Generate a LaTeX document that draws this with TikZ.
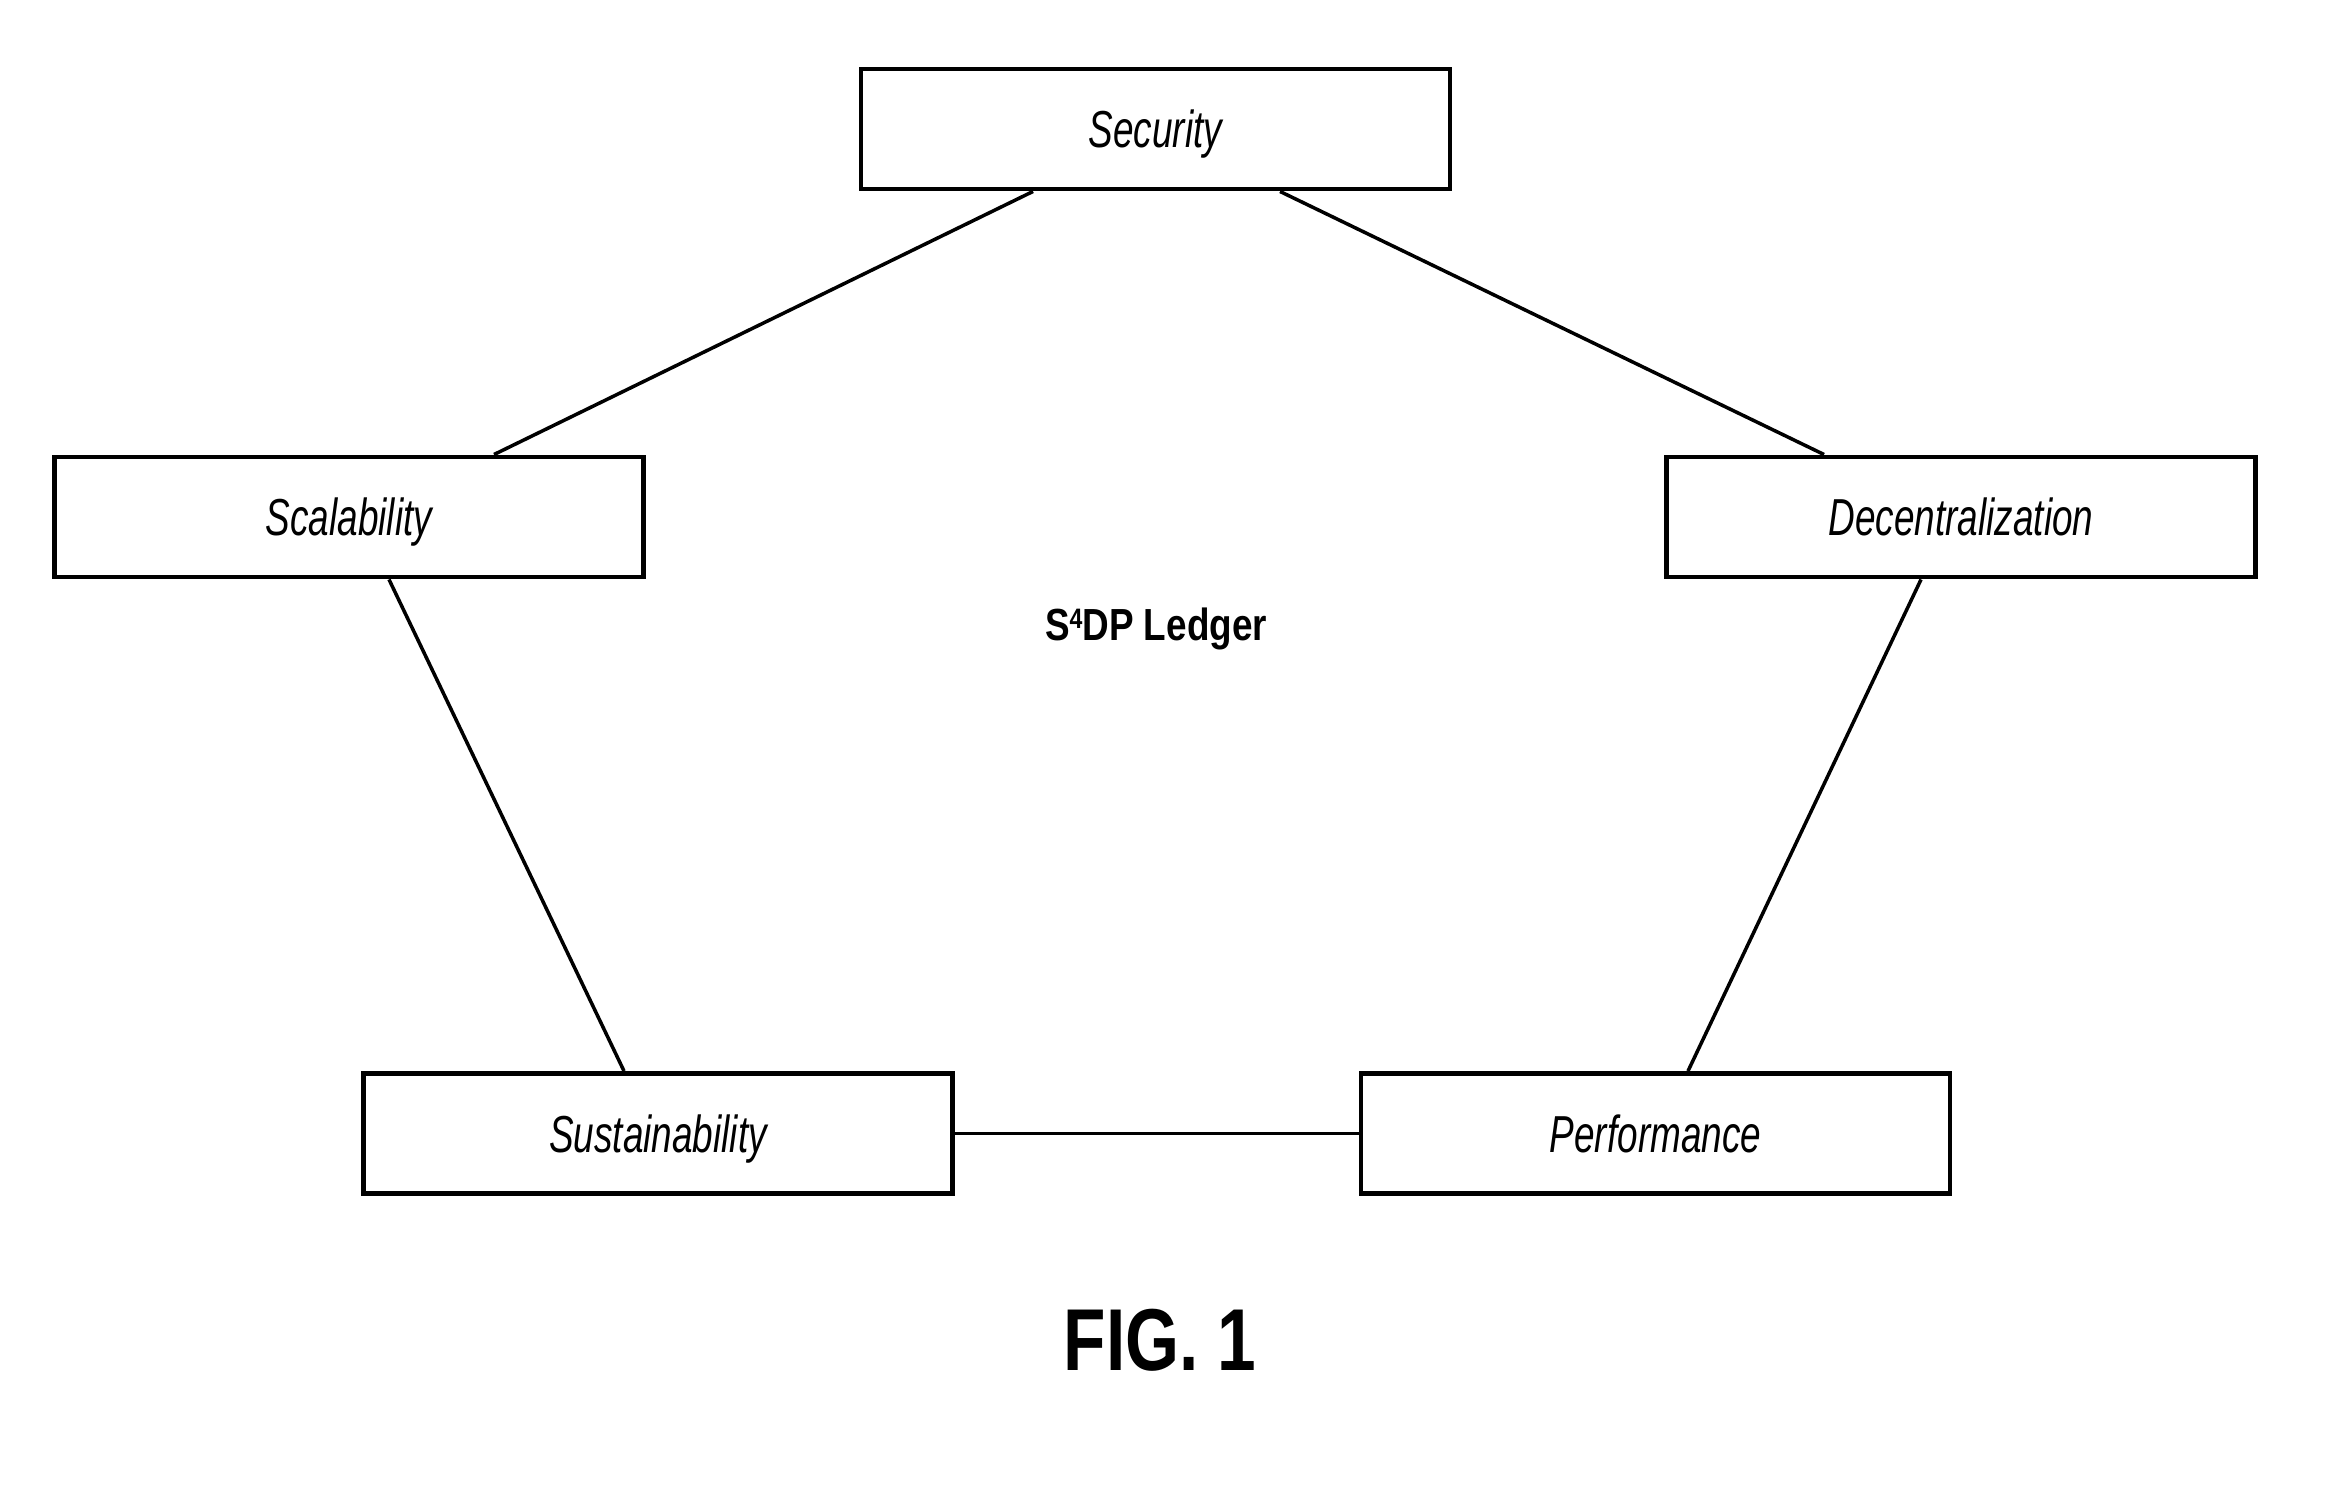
\documentclass[tikz,border=0pt]{standalone}
\usepackage{fontspec}
\setmainfont{Liberation Sans}
\newfontfamily\boxfont{Liberation Sans}[FakeStretch=0.71]
\newfontfamily\ledgerfont{Liberation Sans}[FakeStretch=0.82]
\newfontfamily\figfont{Liberation Sans}[FakeStretch=0.79]
\tikzset{
    attr/.style={draw, line width=1.4pt, minimum width=5.89cm, minimum height=1.2cm,
        inner sep=0pt, text height=0.37cm, text depth=0pt,
        font=\boxfont\itshape\fontsize{14.8}{16}\selectfont},
    link/.style={line width=1pt}
}
\begin{document}
\begin{tikzpicture}
    \useasboundingbox (0,0) rectangle (23.48,-14.99);
    
    % 五个属性
    \node[attr] (sec) at (11.555, -1.29) {Security};
    \node[attr] (scal) at (3.49, -5.17) {Scalability};
    \node[attr] (dec) at (19.61, -5.17) {Decentralization};
    \node[attr] (sust) at (6.58, -11.335) {Sustainability};
    \node[attr] (perf) at (16.555, -11.335) {Performance};
    
    % 连线
    \draw[link] ([xshift=-1.225cm]sec.south) -- ([xshift=1.45cm]scal.north);
    \draw[link] ([xshift=1.245cm]sec.south) -- ([xshift=-1.37cm]dec.north);
    \draw[link] ([xshift=0.40cm]scal.south) -- ([xshift=-0.34cm]sust.north);
    \draw[link] ([xshift=-0.40cm]dec.south) -- ([xshift=0.325cm]perf.north);
    \draw[link] (sust.east) -- (perf.west);
    
    % 中心与图号
    \node[font=\ledgerfont\bfseries\fontsize{12.8}{14}\selectfont] (ledger) at (11.56, -6.29) {S\raisebox{0.5ex}{\fontsize{8}{9}\selectfont 4}DP Ledger};
    \node[font=\figfont\bfseries\fontsize{25}{28}\selectfont] (fig) at (11.60, -13.40) {FIG. 1};
\end{tikzpicture}
\end{document}
